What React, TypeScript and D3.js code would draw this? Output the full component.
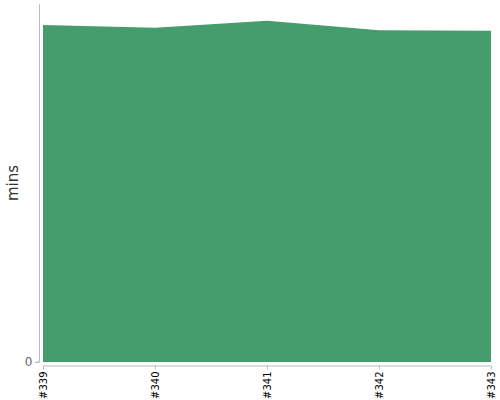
import { useEffect, useRef } from "react";
import * as d3 from "d3";

const builds = ["#339", "#340", "#341", "#342", "#343"];
const minutes = [56.5, 56.0, 57.2, 55.6, 55.5];
const yMax = 60;

export default function App() {
  const svgRef = useRef<SVGSVGElement>(null);

  useEffect(() => {
    if (!svgRef.current) return;
    const width = 500;
    const height = 400;
    const svg = d3.select(svgRef.current);
    svg.selectAll("*").remove();

    const x = d3.scalePoint().domain(builds).range([43, 491]);
    const y = d3.scaleLinear().domain([0, yMax]).range([362, 4]);

    const data = builds.map((b, i) => ({ b, v: minutes[i] }));

    const area = d3
      .area<(typeof data)[0]>()
      .x((d) => x(d.b)!)
      .y0(y(0))
      .y1((d) => y(d.v));

    svg
      .append("path")
      .datum(data)
      .attr("fill", "#459d6d")
      .attr("d", area);

    // Y axis
    const yAxis = svg
      .append("g")
      .attr("transform", "translate(39.5,0)")
      .call(d3.axisLeft(y).tickValues([0]).tickSize(4).tickPadding(3));
    yAxis.select(".domain").attr("stroke", "#bbb").attr("d", `M-4,${y(0)}H0V${y(yMax)}`);
    yAxis.selectAll(".tick line").attr("stroke", "#bbb");
    yAxis
      .selectAll(".tick text")
      .attr("fill", "#666")
      .attr("font-size", 12)
      .attr("font-family", "DejaVu Sans, sans-serif");

    // X axis
    const xAxis = svg
      .append("g")
      .attr("transform", "translate(0,365.5)")
      .call(d3.axisBottom(x).tickSize(4).tickSizeOuter(0));
    xAxis.select(".domain").attr("stroke", "#bbb");
    xAxis.selectAll(".tick line").attr("stroke", "#bbb");
    xAxis
      .selectAll(".tick text")
      .attr("fill", "#000")
      .attr("font-size", 10)
      .attr("font-family", "DejaVu Sans, sans-serif")
      .attr("text-anchor", "end")
      .attr("transform", "rotate(-90)")
      .attr("x", -6)
      .attr("y", 0)
      .attr("dy", "0.35em");

    // Y label
    svg
      .append("text")
      .attr("transform", `translate(18,${(y(0) + y(yMax)) / 2}) rotate(-90)`)
      .attr("text-anchor", "middle")
      .attr("fill", "#333")
      .attr("font-size", 15)
      .attr("font-family", "DejaVu Sans, sans-serif")
      .text("mins");

    svg.attr("width", width).attr("height", height);
  }, []);

  return (
    <svg
      ref={svgRef}
      style={{ position: "absolute", left: 0, top: 0, display: "block" }}
    />
  );
}
